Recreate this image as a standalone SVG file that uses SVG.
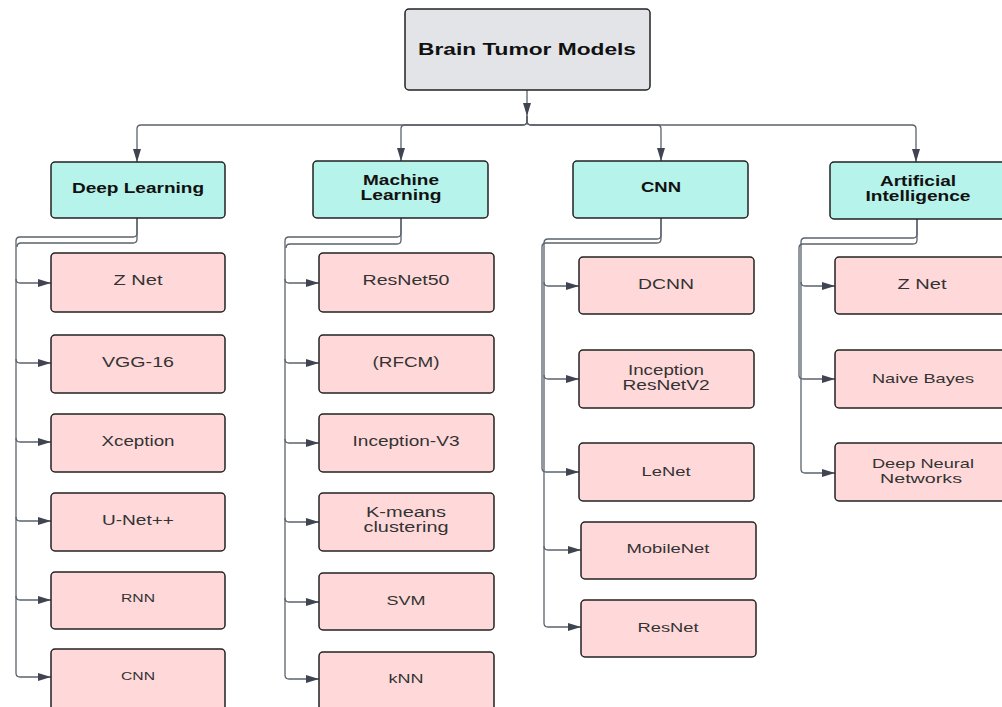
<svg xmlns="http://www.w3.org/2000/svg" width="1002" height="707" viewBox="0 0 1002 707">
<defs>
<style>
.title{fill:#e2e4e8;stroke:#222;stroke-width:1.5}
.par{fill:#b6f3ea;stroke:#222;stroke-width:1.5}
.leaf{fill:#ffd9da;stroke:#222;stroke-width:1.5}
.c{fill:none;stroke:#5b626d;stroke-width:1.3}
.tb{font-family:"Liberation Sans",Arial,sans-serif;font-weight:bold;fill:#111;text-anchor:middle}
.tl{font-family:"Liberation Sans",Arial,sans-serif;fill:#333;text-anchor:middle}
</style>
<marker id="ah" markerUnits="userSpaceOnUse" markerWidth="13" markerHeight="8" refX="13" refY="4" orient="auto">
<path d="M0,0 L13,4 L0,8 z" fill="#3f4550"/>
</marker>
</defs>
<rect width="1002" height="707" fill="#fff"/>
<g id="connectors">
<path class="c" d="M527,90 V116" marker-end="url(#ah)"/>
<path class="c" d="M527,116 V121 Q527,125 523,125 H141 Q137,125 137,129 V162" marker-end="url(#ah)"/>
<path class="c" d="M527,116 V121 Q527,125 523,125 H405 Q401,125 401,129 V161" marker-end="url(#ah)"/>
<path class="c" d="M527,116 V121 Q527,125 531,125 H657 Q661,125 661,129 V161" marker-end="url(#ah)"/>
<path class="c" d="M527,116 V121 Q527,125 531,125 H912 Q916,125 916,129 V162" marker-end="url(#ah)"/>
<!-- Deep Learning -->
<path class="c" d="M137,218 V233 Q137,237 133,237 H20 Q16,237 16,241 V673 Q16,677 20,677 H51" marker-end="url(#ah)"/>
<path class="c" d="M137,218 V239 Q137,243 133,243 H21 Q17,243 17,247"/>
<path class="c" d="M16,279 Q16,283 20,283 H51" marker-end="url(#ah)"/>
<path class="c" d="M16,359 Q16,363 20,363 H51" marker-end="url(#ah)"/>
<path class="c" d="M16,438 Q16,442 20,442 H51" marker-end="url(#ah)"/>
<path class="c" d="M16,517 Q16,521 20,521 H51" marker-end="url(#ah)"/>
<path class="c" d="M16,596 Q16,600 20,600 H51" marker-end="url(#ah)"/>
<!-- Machine Learning -->
<path class="c" d="M401,218 V233 Q401,237 397,237 H289 Q285,237 285,241 V675 Q285,679 289,679 H319" marker-end="url(#ah)"/>
<path class="c" d="M401,218 V240 Q401,244 397,244 H290 Q286,244 286,248"/>
<path class="c" d="M285,279 Q285,283 289,283 H319" marker-end="url(#ah)"/>
<path class="c" d="M285,359 Q285,363 289,363 H319" marker-end="url(#ah)"/>
<path class="c" d="M285,439 Q285,443 289,443 H319" marker-end="url(#ah)"/>
<path class="c" d="M285,518 Q285,522 289,522 H319" marker-end="url(#ah)"/>
<path class="c" d="M285,598 Q285,602 289,602 H319" marker-end="url(#ah)"/>
<!-- CNN -->
<path class="c" d="M661,218 V235 Q661,239 657,239 H548 Q544,239 544,243 V623 Q544,627 548,627 H581" marker-end="url(#ah)"/>
<path class="c" d="M661,218 V239 Q661,243 657,243 H546 Q542,243 542,247 V468 Q542,472 546,472 H579" marker-end="url(#ah)"/>
<path class="c" d="M544,282 Q544,286 548,286 H579" marker-end="url(#ah)"/>
<path class="c" d="M544,375 Q544,379 548,379 H579" marker-end="url(#ah)"/>
<path class="c" d="M544,546 Q544,550 548,550 H581" marker-end="url(#ah)"/>
<!-- AI -->
<path class="c" d="M917,219 V234 Q917,238 913,238 H805 Q801,238 801,242 V469 Q801,473 805,473 H835" marker-end="url(#ah)"/>
<path class="c" d="M917,219 V240 Q917,244 913,244 H803 Q799,244 799,248 V375 Q799,379 803,379 H835" marker-end="url(#ah)"/>
<path class="c" d="M801,282 Q801,286 805,286 H835" marker-end="url(#ah)"/>
</g>
<g id="n-root"><rect class="title" x="405" y="9" width="245" height="81" rx="4"/><text class="tb" x="527" y="55" font-size="17" textLength="218" lengthAdjust="spacingAndGlyphs">Brain Tumor Models</text></g>
<g id="n-dl"><rect class="par" x="51" y="162" width="174" height="56" rx="4"/><text class="tb" x="138" y="193" font-size="14" textLength="132" lengthAdjust="spacingAndGlyphs">Deep Learning</text></g>
<g id="n-ml"><rect class="par" x="313" y="161" width="175" height="57" rx="4"/><text class="tb" x="401" y="185" font-size="14" textLength="76" lengthAdjust="spacingAndGlyphs">Machine</text><text class="tb" x="401" y="200" font-size="14" textLength="81" lengthAdjust="spacingAndGlyphs">Learning</text></g>
<g id="n-cnn"><rect class="par" x="573" y="161" width="175" height="57" rx="4"/><text class="tb" x="661" y="192" font-size="14" textLength="40" lengthAdjust="spacingAndGlyphs">CNN</text></g>
<g id="n-ai"><rect class="par" x="830" y="162" width="175" height="57" rx="4"/><text class="tb" x="918" y="186" font-size="14" textLength="76" lengthAdjust="spacingAndGlyphs">Artificial</text><text class="tb" x="918" y="201" font-size="14" textLength="105" lengthAdjust="spacingAndGlyphs">Intelligence</text></g>
<g id="n-dl-znet"><rect class="leaf" x="51" y="253" width="174" height="59" rx="4"/><text class="tl" x="138" y="285" font-size="14" textLength="49" lengthAdjust="spacingAndGlyphs">Z Net</text></g>
<g id="n-dl-vgg"><rect class="leaf" x="51" y="335" width="174" height="58" rx="4"/><text class="tl" x="138" y="367" font-size="14" textLength="72" lengthAdjust="spacingAndGlyphs">VGG-16</text></g>
<g id="n-dl-xcep"><rect class="leaf" x="51" y="414" width="174" height="58" rx="4"/><text class="tl" x="138" y="446" font-size="14" textLength="73" lengthAdjust="spacingAndGlyphs">Xception</text></g>
<g id="n-dl-unet"><rect class="leaf" x="51" y="493" width="174" height="58" rx="4"/><text class="tl" x="138" y="525" font-size="14" textLength="72" lengthAdjust="spacingAndGlyphs">U-Net++</text></g>
<g id="n-dl-rnn"><rect class="leaf" x="51" y="572" width="174" height="57" rx="4"/><text class="tl" x="138" y="602" font-size="11" textLength="34" lengthAdjust="spacingAndGlyphs">RNN</text></g>
<g id="n-dl-cnn"><rect class="leaf" x="51" y="649" width="174" height="64" rx="4"/><text class="tl" x="138" y="680" font-size="11" textLength="34" lengthAdjust="spacingAndGlyphs">CNN</text></g>
<g id="n-ml-resnet50"><rect class="leaf" x="319" y="253" width="175" height="59" rx="4"/><text class="tl" x="406" y="285" font-size="14" textLength="87" lengthAdjust="spacingAndGlyphs">ResNet50</text></g>
<g id="n-ml-rfcm"><rect class="leaf" x="319" y="335" width="175" height="58" rx="4"/><text class="tl" x="406" y="367" font-size="14" textLength="67" lengthAdjust="spacingAndGlyphs">(RFCM)</text></g>
<g id="n-ml-incv3"><rect class="leaf" x="319" y="414" width="175" height="58" rx="4"/><text class="tl" x="406" y="446" font-size="14" textLength="107" lengthAdjust="spacingAndGlyphs">Inception-V3</text></g>
<g id="n-ml-kmeans"><rect class="leaf" x="319" y="493" width="175" height="58" rx="4"/><text class="tl" x="406" y="517" font-size="14" textLength="80" lengthAdjust="spacingAndGlyphs">K-means</text><text class="tl" x="406" y="532" font-size="14" textLength="85" lengthAdjust="spacingAndGlyphs">clustering</text></g>
<g id="n-ml-svm"><rect class="leaf" x="319" y="573" width="175" height="57" rx="4"/><text class="tl" x="406" y="605" font-size="13" textLength="39" lengthAdjust="spacingAndGlyphs">SVM</text></g>
<g id="n-ml-knn"><rect class="leaf" x="319" y="652" width="175" height="62" rx="4"/><text class="tl" x="406" y="683" font-size="13" textLength="35" lengthAdjust="spacingAndGlyphs">kNN</text></g>
<g id="n-cnn-dcnn"><rect class="leaf" x="579" y="257" width="175" height="57" rx="4"/><text class="tl" x="666" y="289" font-size="14" textLength="56" lengthAdjust="spacingAndGlyphs">DCNN</text></g>
<g id="n-cnn-incres"><rect class="leaf" x="579" y="350" width="175" height="58" rx="4"/><text class="tl" x="666" y="375" font-size="14" textLength="76" lengthAdjust="spacingAndGlyphs">Inception</text><text class="tl" x="666" y="390" font-size="14" textLength="87" lengthAdjust="spacingAndGlyphs">ResNetV2</text></g>
<g id="n-cnn-lenet"><rect class="leaf" x="579" y="443" width="175" height="58" rx="4"/><text class="tl" x="666" y="476" font-size="13" textLength="49" lengthAdjust="spacingAndGlyphs">LeNet</text></g>
<g id="n-cnn-mobile"><rect class="leaf" x="581" y="522" width="175" height="57" rx="4"/><text class="tl" x="668" y="553" font-size="13" textLength="83" lengthAdjust="spacingAndGlyphs">MobileNet</text></g>
<g id="n-cnn-resnet"><rect class="leaf" x="581" y="600" width="175" height="57" rx="4"/><text class="tl" x="668" y="632" font-size="13" textLength="61" lengthAdjust="spacingAndGlyphs">ResNet</text></g>
<g id="n-ai-znet"><rect class="leaf" x="835" y="257" width="175" height="57" rx="4"/><text class="tl" x="922" y="289" font-size="14" textLength="49" lengthAdjust="spacingAndGlyphs">Z Net</text></g>
<g id="n-ai-nb"><rect class="leaf" x="835" y="350" width="175" height="58" rx="4"/><text class="tl" x="923" y="383" font-size="13" textLength="102" lengthAdjust="spacingAndGlyphs">Naive Bayes</text></g>
<g id="n-ai-dnn"><rect class="leaf" x="835" y="443" width="175" height="58" rx="4"/><text class="tl" x="923" y="468" font-size="13" textLength="102" lengthAdjust="spacingAndGlyphs">Deep Neural</text><text class="tl" x="921" y="483" font-size="13" textLength="82" lengthAdjust="spacingAndGlyphs">Networks</text></g>
</svg>
